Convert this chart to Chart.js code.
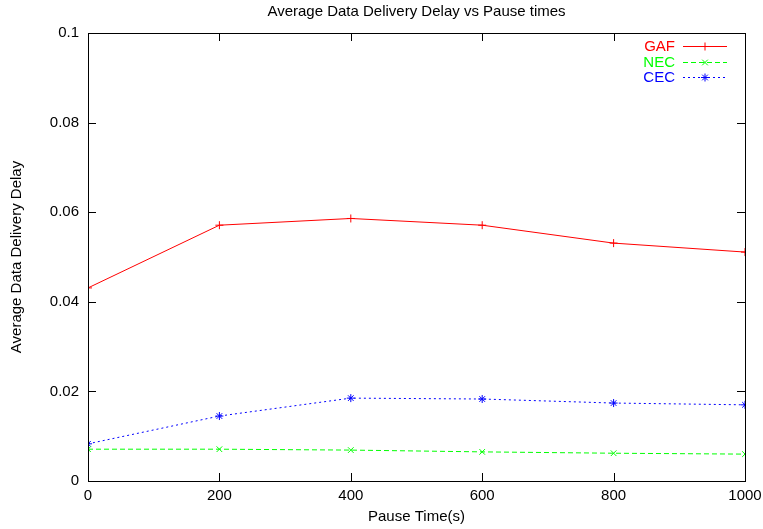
<!DOCTYPE html>
<html>
<head>
<meta charset="utf-8">
<script src="https://cdn.jsdelivr.net/npm/chart.js@4/dist/chart.umd.min.js"></script>
<style>
  html, body { margin: 0; padding: 0; background: #fff; }
  #wrap { width: 763px; height: 529px; }
</style>
</head>
<body>
<div id="wrap"><canvas id="chart" width="763" height="529"></canvas></div>
<script>
// ============================
// DATA
// ============================

const pauseTimes = [0, 200, 400, 600, 800, 1000];
const gafDelay = [0.0431, 0.0571, 0.0586, 0.0571, 0.0531, 0.0511];
const necDelay = [0.0071, 0.0071, 0.0069, 0.0065, 0.0062, 0.0060];
const cecDelay = [0.0083, 0.0145, 0.0185, 0.0183, 0.0174, 0.0170];

const FONT = "'Liberation Sans', Arial, sans-serif";
const FSIZE = 15;

function toPoints(ys) {
  return pauseTimes.map((x, i) => ({ x, y: ys[i] }));
}

// ============================
// PLUGIN: frame, inward ticks, legend
// ============================

const gnuplotFrame = {
  id: "gnuplotFrame",
  afterDatasetsDraw(chart) {
    const { ctx, chartArea: a, scales } = chart;
    const len = 8;
    ctx.save();
    ctx.strokeStyle = "#000";
    ctx.lineWidth = 1;

    scales.x.ticks.forEach(t => {
      const x = Math.round(scales.x.getPixelForValue(t.value)) + 0.5;
      ctx.beginPath();
      ctx.moveTo(x, a.bottom); ctx.lineTo(x, a.bottom - len);
      ctx.moveTo(x, a.top); ctx.lineTo(x, a.top + len);
      ctx.stroke();
    });
    scales.y.ticks.forEach(t => {
      const y = Math.round(scales.y.getPixelForValue(t.value)) + 0.5;
      ctx.beginPath();
      ctx.moveTo(a.left, y); ctx.lineTo(a.left + len, y);
      ctx.moveTo(a.right, y); ctx.lineTo(a.right - len, y);
      ctx.stroke();
    });

    ctx.strokeRect(Math.round(a.left) + 0.5, Math.round(a.top) + 0.5,
      Math.round(a.right - a.left), Math.round(a.bottom - a.top));

    // legend in the top right corner, gnuplot style
    ctx.font = FSIZE + "px " + FONT;
    ctx.textAlign = "right";
    ctx.textBaseline = "middle";
    const textX = a.right - 70;
    const lineX0 = a.right - 62;
    const lineX1 = a.right - 18;
    chart.data.datasets.forEach((ds, i) => {
      const y = a.top + 13 + i * 15.5;
      ctx.fillStyle = ds.borderColor;
      ctx.fillText(ds.label, textX, y + 1);
      ctx.strokeStyle = ds.borderColor;
      ctx.setLineDash(ds.borderDash || []);
      ctx.beginPath();
      ctx.moveTo(lineX0, Math.round(y) + 0.5); ctx.lineTo(lineX1, Math.round(y) + 0.5);
      ctx.stroke();
      ctx.setLineDash([]);
      Chart.helpers.drawPoint(ctx, {
        pointStyle: ds.pointStyle, radius: ds.pointRadius, borderWidth: 1
      }, (lineX0 + lineX1) / 2, Math.round(y) + 0.5);
    });
    ctx.restore();
  }
};

// ============================
// CHART
// ============================

const series = [
  { label: "GAF", data: gafDelay, color: "#ff0000", dash: [], point: "cross" },
  { label: "NEC", data: necDelay, color: "#00ff00", dash: [5, 3], point: "crossRot" },
  { label: "CEC", data: cecDelay, color: "#0000ff", dash: [2, 3], point: "star" }
];

new Chart(document.getElementById("chart"), {
  type: "scatter",
  data: {
    datasets: series.map(s => ({
      label: s.label,
      data: toPoints(s.data),
      showLine: true,
      borderColor: s.color,
      backgroundColor: s.color,
      borderWidth: 1,
      borderDash: s.dash,
      pointStyle: s.point,
      pointRadius: 4,
      pointBorderWidth: 1,
      pointHoverRadius: 4,
      tension: 0
    }))
  },
  options: {
    responsive: false,
    animation: false,
    devicePixelRatio: 1,
    layout: { padding: { top: 0, right: 18, bottom: 0, left: 0 } },
    plugins: {
      legend: { display: false },
      tooltip: { enabled: false },
      title: {
        display: true,
        fullSize: false,
        text: "Average Data Delivery Delay vs Pause times",
        color: "#000",
        font: { family: FONT, size: FSIZE, weight: "normal" },
        padding: { top: 3, bottom: 12 }
      }
    },
    scales: {
      x: {
        type: "linear",
        min: 0,
        max: 1000,
        grid: { display: false, drawTicks: false },
        border: { display: false },
        ticks: {
          stepSize: 200,
          color: "#000",
          padding: 6,
          font: { family: FONT, size: FSIZE },
          maxRotation: 0,
          callback: v => String(v)
        },
        title: {
          display: true,
          text: "Pause Time(s)",
          color: "#000",
          font: { family: FONT, size: FSIZE },
          padding: { top: 2, bottom: 3 }
        },
        afterFit: scale => {
          scale.height = 48;
          scale.paddingLeft = 0;
          scale.paddingRight = 0;
        }
      },
      y: {
        min: 0,
        max: 0.1,
        grid: { display: false, drawTicks: false },
        border: { display: false },
        ticks: {
          stepSize: 0.02,
          color: "#000",
          padding: 9,
          font: { family: FONT, size: FSIZE },
          callback: v => String(+v.toFixed(2))
        },
        title: {
          display: true,
          text: "Average Data Delivery Delay",
          color: "#000",
          font: { family: FONT, size: FSIZE },
          padding: { top: 8, bottom: 0 }
        },
        afterFit: scale => { scale.width = 88; }
      }
    }
  },
  plugins: [gnuplotFrame]
});
</script>
</body>
</html>
